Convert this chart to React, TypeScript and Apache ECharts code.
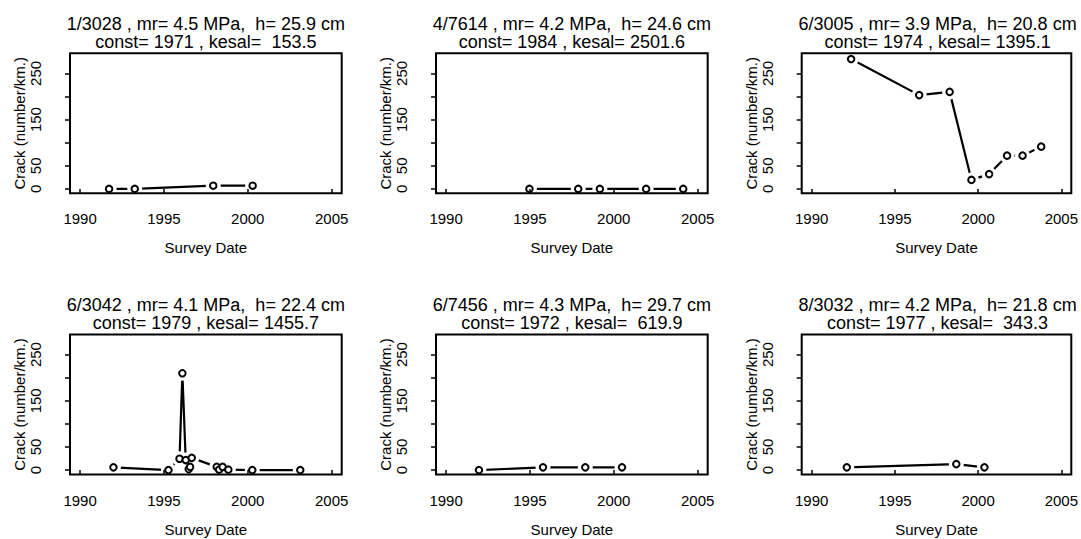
import React, { useEffect, useRef } from "react";
import * as echarts from "echarts";

const X_TICKS = [1990, 1995, 2000, 2005];
const Y_TICKS = [0, 50, 100, 150, 200, 250];
const Y_LABELS = [0, 50, 150, 250];

const sites = ["1/3028", "4/7614", "6/3005", "6/3042", "6/7456", "8/3032"];
const mrValues = ["4.5", "4.2", "3.9", "4.1", "4.3", "4.2"];
const hValues = ["25.9", "24.6", "20.8", "22.4", "29.7", "21.8"];
const constYears = ["1971", "1984", "1974", "1979", "1972", "1977"];
const kesalValues = [" 153.5", "2501.6", "1395.1", "1455.7", " 619.9", " 343.3"];

const p1Years = [1991.73, 1993.26, 1997.94, 2000.29];
const p1Crack = [0, 0, 7, 7];
const p2Years = [1994.97, 1997.88, 1999.17, 2001.93, 2004.14];
const p2Crack = [0, 0, 0, 0, 0];
const p3Years = [1992.37, 1996.46, 1998.29, 1999.6, 2000.66, 2001.74, 2002.67, 2003.79];
const p3Crack = [281, 203, 210, 19.5, 32, 72, 72, 91.5];
const p4Years = [1991.99, 1995.27, 1995.93, 1996.1, 1996.3, 1996.48, 1996.56, 1996.66, 1998.15, 1998.29, 1998.5, 1998.84, 2000.27, 2003.13];
const p4Crack = [6, 0, 24.5, 209.5, 21.7, 2, 7, 26.5, 7, 1, 7, 1, 0, 0];
const p5Years = [1991.96, 1995.78, 1998.3, 2000.49];
const p5Crack = [0, 6, 6, 6];
const p6Years = [1992.11, 1998.69, 2000.38];
const p6Crack = [6, 13, 6];

const panelYears = [p1Years, p2Years, p3Years, p4Years, p5Years, p6Years];
const panelCrack = [p1Crack, p2Crack, p3Crack, p4Crack, p5Crack, p6Crack];

const FONT = "'Liberation Sans', Arial, Helvetica, sans-serif";
const COL_LEFT = [70, 436, 801.7];
const ROW_TOP = [53.3, 334.5];
const BOX_W = 271.7;
const BOX_H = 140;

export default function App() {
  const ref = useRef<HTMLDivElement>(null);
  useEffect(() => {
    if (!ref.current) return;
    const chart = echarts.init(ref.current, undefined, { renderer: "svg" });
    const grids: any[] = [];
    const xAxes: any[] = [];
    const yAxes: any[] = [];
    const series: any[] = [];
    const titles: any[] = [];
    for (let i = 0; i < 6; i++) {
      const col = i % 3;
      const row = Math.floor(i / 3);
      const left = COL_LEFT[col];
      const top = ROW_TOP[row];
      grids.push({
        left,
        top,
        width: BOX_W,
        height: BOX_H,
        show: true,
        borderColor: "#000",
        borderWidth: 2,
        backgroundColor: "transparent",
        z: 10,
      });
      titles.push({
        text:
          sites[i] + " , mr= " + mrValues[i] + " MPa,  h= " + hValues[i] + " cm\n" +
          "const= " + constYears[i] + " , kesal= " + kesalValues[i],
        left: left + BOX_W / 2,
        top: top - 38.5,
        textAlign: "center",
        padding: 0,
        textStyle: {
          fontFamily: FONT,
          fontSize: 18,
          fontWeight: "normal",
          color: "#000",
          lineHeight: 18,
        },
      });
      xAxes.push({
        gridIndex: i,
        type: "value",
        min: 1989.4,
        max: 2005.6,
        z: 10,
        name: "Survey Date",
        nameLocation: "middle",
        nameGap: 47,
        nameTextStyle: { fontFamily: FONT, fontSize: 15, color: "#000" },
        axisLine: { show: false },
        splitLine: { show: false },
        axisTick: {
          show: true,
          customValues: X_TICKS,
          length: 5,
          lineStyle: { color: "#000", width: 1.5 },
        },
        axisLabel: {
          customValues: X_TICKS,
          formatter: (v: number) => String(v),
          fontFamily: FONT,
          fontSize: 15,
          color: "#000",
          margin: 18,
        },
      });
      yAxes.push({
        gridIndex: i,
        type: "value",
        min: -9.5,
        max: 293.5,
        z: 10,
        name: "Crack (number/km.)",
        nameLocation: "middle",
        nameRotate: 90,
        nameGap: 42,
        nameTextStyle: { fontFamily: FONT, fontSize: 15, color: "#000" },
        axisLine: { show: false },
        splitLine: { show: false },
        axisTick: {
          show: true,
          customValues: Y_TICKS,
          length: 5,
          lineStyle: { color: "#000", width: 1.5 },
        },
        axisLabel: {
          customValues: Y_LABELS,
          formatter: (v: number) => String(v),
          rotate: 90,
          fontFamily: FONT,
          fontSize: 15,
          color: "#000",
          margin: 27,
        },
      });
      const data = panelYears[i].map((y, k) => [y, panelCrack[i][k]]);
      series.push({
        type: "line",
        xAxisIndex: i,
        yAxisIndex: i,
        data,
        symbol: "none",
        z: 2,
        lineStyle: { color: "#000", width: 2.2 },
        silent: true,
      });
      series.push({
        type: "scatter",
        xAxisIndex: i,
        yAxisIndex: i,
        data,
        symbol: "circle",
        symbolSize: 15,
        z: 3,
        itemStyle: { color: "#fff", borderWidth: 0, opacity: 1 },
        silent: true,
      });
      series.push({
        type: "scatter",
        xAxisIndex: i,
        yAxisIndex: i,
        data,
        symbol: "circle",
        symbolSize: 6.5,
        z: 4,
        itemStyle: { color: "#fff", borderColor: "#000", borderWidth: 2, opacity: 1 },
        silent: true,
      });
    }
    chart.setOption({
      animation: false,
      backgroundColor: "#fff",
      title: titles,
      grid: grids,
      xAxis: xAxes,
      yAxis: yAxes,
      series,
    });
    return () => chart.dispose();
  }, []);
  return (
    <div
      ref={ref}
      style={{ position: "absolute", left: 0, top: 0, width: 1081, height: 539 }}
    />
  );
}
